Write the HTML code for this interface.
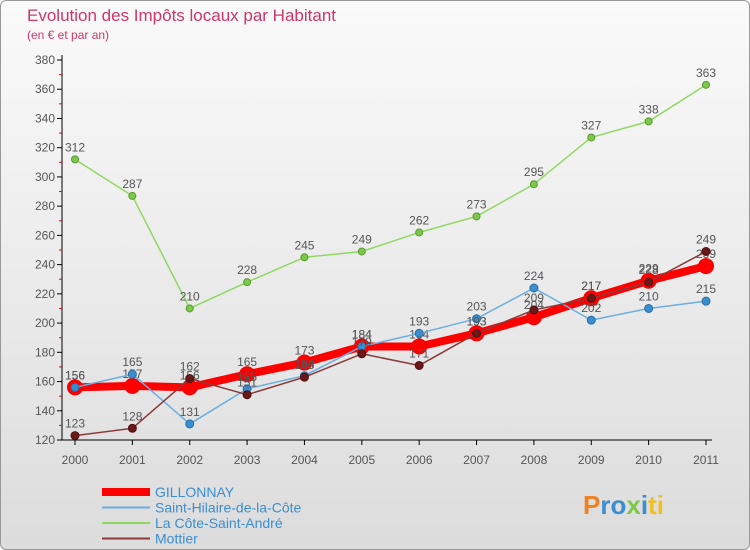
<!DOCTYPE html>
<html><head><meta charset="utf-8"><style>
body{margin:0;width:750px;height:550px;overflow:hidden;font-family:"Liberation Sans",sans-serif}
#wrap{position:absolute;left:0;top:0;width:748px;height:548px;border:1px solid #999;border-radius:6px;background:linear-gradient(#fafafa,#dcdcdc)}
</style></head><body>
<div id="wrap">
<svg id="c" width="750" height="550" style="position:absolute;left:-1px;top:-1px"></svg>
</div>
<script>
const years=[2000,2001,2002,2003,2004,2005,2006,2007,2008,2009,2010,2011];
const yTicks=[120,140,160,180,200,220,240,260,280,300,320,340,360,380];
const gillonnay=[156,157,156,165,173,184,184,193,204,217,229,239];
const saintHilaire=[156,165,131,155,164,184,193,203,224,202,210,215];
const coteSaintAndre=[312,287,210,228,245,249,262,273,295,327,338,363];
const mottier=[123,128,162,151,163,179,171,193,209,217,228,249];
const svg=document.getElementById('c');
const NS='http://www.w3.org/2000/svg';
const x=i=>75+i*(706-75)/11;
const y=v=>440-(v-120)*(380/260);
function mk(t,a,p){const e=document.createElementNS(NS,t);for(const k in a)e.setAttribute(k,a[k]);(p||svg).appendChild(e);return e;}
let t=mk('text',{x:27,y:21,'font-size':17,fill:'#d0356a'});t.textContent='Evolution des Impôts locaux par Habitant';


t=mk('text',{x:27,y:39,'font-size':12,fill:'#d0356a'});t.textContent='(en € et par an)';


mk('line',{x1:62,y1:55,x2:62,y2:440,stroke:'#000'});
mk('line',{x1:62,y1:440,x2:712,y2:440,stroke:'#000'});
yTicks.forEach(v=>{mk('line',{x1:57,x2:62,y1:y(v),y2:y(v),stroke:'#000'});
 if(v<380)mk('line',{x1:59,x2:62,y1:y(v+10),y2:y(v+10),stroke:'#e00'});
 const l=mk('text',{x:55,y:y(v)+4,'font-size':12,fill:'#555','text-anchor':'end'});l.textContent=v;
 
 });
years.forEach((yr,i)=>{mk('line',{x1:x(i),x2:x(i),y1:440,y2:445,stroke:'#000'});
 const l=mk('text',{x:x(i),y:464,'font-size':12,fill:'#555','text-anchor':'middle'});l.textContent=yr;
 
 });
function series(d,col,w,r,name,dot,stroke){
 const g=mk('g',{});
 
 
 mk('polyline',{points:d.map((v,i)=>x(i)+','+y(v)).join(' '),fill:'none',stroke:col,'stroke-width':w,'stroke-linejoin':'round'},g);
 d.forEach((v,i)=>{const c=mk('circle',{cx:x(i),cy:y(v),r:r,fill:dot,stroke:stroke,'stroke-width':1},g);
  
  
  const l=mk('text',{x:x(i),y:y(v)-8,'font-size':12,fill:'#555','text-anchor':'middle'},g);l.textContent=v;
  
  });
}
series(coteSaintAndre,'#8fd860',1.5,3.5,'cote-saint-andre-series','#7cc84a','#5a9a30');
series(gillonnay,'#ff0000',8,7.5,'gillonnay-series','#ff0000','#e00');
series(saintHilaire,'#6aaee0',1.5,4,'saint-hilaire-series','#3a8ed0','#2a6ea0');
series(mottier,'#8a3a3a',1.5,4,'mottier-series','#6a1818','#501010');
const leg=[['GILLONNAY','#ff0000',8],['Saint-Hilaire-de-la-Côte','#6aaee0',2],['La Côte-Saint-André','#8fd860',2],['Mottier','#8a3a3a',2]];
leg.forEach((e,i)=>{const yy=492+i*15.5;const g=mk('g',{});
 
 
 mk('line',{x1:102,x2:150,y1:yy,y2:yy,stroke:e[1],'stroke-width':e[2]},g);
 const l=mk('text',{x:155,y:yy+5,'font-size':14,fill:'#3a8ed0'},g);l.textContent=e[0];});
const p=mk('text',{x:583,y:514,'font-size':26,'font-weight':'bold',fill:'#2a8ad0'});
p.innerHTML='<tspan fill="#f08020">P</tspan><tspan fill="#3a8ed0">ro</tspan><tspan fill="#7cc84a">x</tspan><tspan fill="#3a8ed0">i</tspan><tspan fill="#f0c020">ti</tspan>';


</script>
</body></html>
